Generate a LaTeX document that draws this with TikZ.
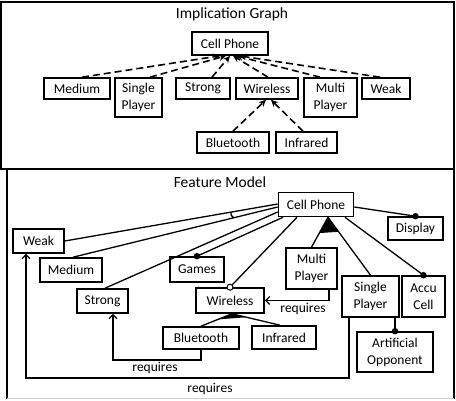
\documentclass[tikz,border=0pt]{standalone}
\usepackage{fontspec}
\setmainfont{Carlito}
\usetikzlibrary{arrows.meta,calc}
\begin{document}
\begin{tikzpicture}[x=1pt,y=-1pt,
  fbox/.style={draw, line width=1.6pt, inner sep=0pt, align=center, font=\fontsize{13.5}{17}\selectfont},
  ttl/.style={font=\fontsize{15.5}{18}\selectfont, inner sep=0pt},
  lbl/.style={font=\fontsize{13.5}{16}\selectfont, inner sep=0pt},
  imp/.style={line width=1.6pt, dash pattern=on 7pt off 4pt, -{Stealth[length=7pt,width=6.5pt]}},
  fl/.style={line width=1.3pt},
  dot/.style={circle, fill, inner sep=0pt, minimum size=6.5pt},
  odot/.style={circle, draw, fill=white, line width=1pt, inner sep=0pt, minimum size=6pt},
  req/.style={line width=1.3pt, -{Straight Barb[length=4pt,width=8pt]}}]
\useasboundingbox (0,0) rectangle (456,401);
% frames
\draw[line width=1.4pt] (1,2) rectangle (454,169);
\draw[line width=1.4pt] (7,169) -- (7,399);
\draw[line width=1.4pt] (454,169) -- (454,399);
\draw[gray!35, line width=1pt] (7,399) -- (454,399);

% ---------- Implication graph ----------
\node[ttl] (t1) at (232,14) {Implication Graph};
\node[fbox, minimum width=76pt, minimum height=23pt] (cp) at (230,43.5) {Cell Phone};
\node[fbox, minimum width=66pt, minimum height=21pt] (med) at (77,88.5) {Medium};
\node[fbox, minimum width=47pt, minimum height=39pt] (sp) at (138.5,97.5) {Single\\Player};
\node[fbox, minimum width=54pt, minimum height=21pt] (st) at (203,88.5) {Strong};
\node[fbox, minimum width=62pt, minimum height=21pt] (wl) at (267,88.5) {Wireless};
\node[fbox, minimum width=53pt, minimum height=39pt] (mp) at (330.5,97.5) {Multi\\Player};
\node[fbox, minimum width=48pt, minimum height=21pt] (wk) at (386,88.5) {Weak};
\node[fbox, minimum width=72pt, minimum height=21pt] (bt) at (233,142.5) {Bluetooth};
\node[fbox, minimum width=61pt, minimum height=21pt] (ir) at (306.5,142.5) {Infrared};

\draw[imp] ([xshift=5pt]med.north) -- ([xshift=-10pt]cp.south);
\draw[imp] ([xshift=11.5pt]sp.north) -- ([xshift=-4pt]cp.south);
\draw[imp] ([xshift=9pt]st.north) -- ([xshift=0pt]cp.south);
\draw[imp] ([xshift=1pt]wl.north) -- ([xshift=3pt]cp.south);
\draw[imp] ([xshift=-10.5pt]mp.north) -- ([xshift=6pt]cp.south);
\draw[imp] ([xshift=-6pt]wk.north) -- ([xshift=9pt]cp.south);
\draw[imp] (bt.north) -- ([xshift=-1pt]wl.south);
\draw[imp] ([xshift=-3.5pt]ir.north) -- ([xshift=4pt]wl.south);

% ---------- Feature model ----------
\node[ttl] (t2) at (220,182) {Feature Model};
\node[fbox, minimum width=75pt, minimum height=24pt] (cp2) at (316,204.5) {Cell Phone};
\node[fbox, minimum width=55pt, minimum height=23pt] (disp) at (415.5,228.5) {Display};
\node[fbox, minimum width=51pt, minimum height=24pt] (weak2) at (38.5,241) {Weak};
\node[fbox, minimum width=62pt, minimum height=24pt] (med2) at (71,270) {Medium};
\node[fbox, minimum width=54pt, minimum height=25pt] (games) at (197,269.5) {Games};
\node[fbox, minimum width=51pt, minimum height=24pt] (st2) at (102.5,301) {Strong};
\node[fbox, minimum width=68pt, minimum height=25pt] (wl2) at (230,300.5) {Wireless};
\node[fbox, minimum width=51pt, minimum height=41pt] (mp2) at (311.5,268.5) {Multi\\Player};
\node[fbox, minimum width=57pt, minimum height=41pt] (sp2) at (370.5,296.5) {Single\\Player};
\node[fbox, minimum width=43pt, minimum height=41pt] (accu) at (423.5,296.5) {Accu\\Cell};
\node[fbox, minimum width=76pt, minimum height=40pt] (ao) at (395,352) {Artificial\\Opponent};
\node[fbox, minimum width=76pt, minimum height=22pt] (bt2) at (201,338) {Bluetooth};
\node[fbox, minimum width=64pt, minimum height=23pt] (ir2) at (284,337.5) {Infrared};

% links from Cell Phone
\coordinate (wA) at ([yshift=0.5pt]cp2.west);
\coordinate (mA) at ([yshift=-2.5pt]cp2.west);
\coordinate (mB) at ([xshift=2pt]med2.north);
\draw[fl] (wA) -- (weak2.east);
\draw[fl] (mA) -- (mB);
\draw[fl] ($(wA)!0.22!(weak2.east)$) to[bend right=35] ($(mA)!0.215!(mB)$);
\draw[fl] ([yshift=-7.5pt]cp2.west) -- ([xshift=2.5pt]st2.north);
\draw[fl] ([xshift=-33pt]cp2.south) -- (games.north);
\draw[fl] ([xshift=-19pt]cp2.south) -- (wl2.north);
\draw[fl] ([yshift=-2.5pt]cp2.east) -- (disp.north);
\draw[fl] ([xshift=29pt]cp2.south) -- (accu.north);
\coordinate (ap) at ([xshift=12pt]cp2.south);
\draw[fl] (ap) -- (mp2.north);
\draw[fl] (ap) -- (sp2.north);
\fill (ap) -- ($(ap)!18pt!(mp2.north)$) -- ($(ap)!18pt!(sp2.north)$) -- cycle;
\draw[fl] ([xshift=24.5pt]sp2.south) -- (ao.north);
% Wireless group
\coordinate (wp) at ([xshift=2pt]wl2.south);
\coordinate (irt) at ([xshift=-4pt]ir2.north);
\draw[fl] (wp) -- (bt2.north);
\draw[fl] (wp) -- (irt);
\fill (wp) -- ($(wp)!15pt!(bt2.north)$) -- ($(wp)!15pt!(irt)$) -- cycle;
% end markers
\node[dot] (dg) at (games.north) {};
\node[odot] (dw) at (wl2.north) {};
\node[dot] (dd) at (disp.north) {};
\node[dot] (da) at (accu.north) {};
\node[dot] (do) at (ao.north) {};

% requires constraints
\draw[req] (bt2.south) -- (bt2.south |- 0,360) -| ([xshift=10.5pt]st2.south);
\node[lbl] (rq1) at (155,368) {requires};
\draw[req] ([xshift=17.5pt]mp2.south) |- (wl2.east);
\node[lbl] (rq2) at (303,309) {requires};
\coordinate (spb) at ([xshift=-21.5pt]sp2.south);
\draw[req] (spb) -- (spb |- 0,378) -| ([xshift=-12.5pt]weak2.south);
\node[lbl] (rq3) at (210,389) {requires};
\end{tikzpicture}
\end{document}
